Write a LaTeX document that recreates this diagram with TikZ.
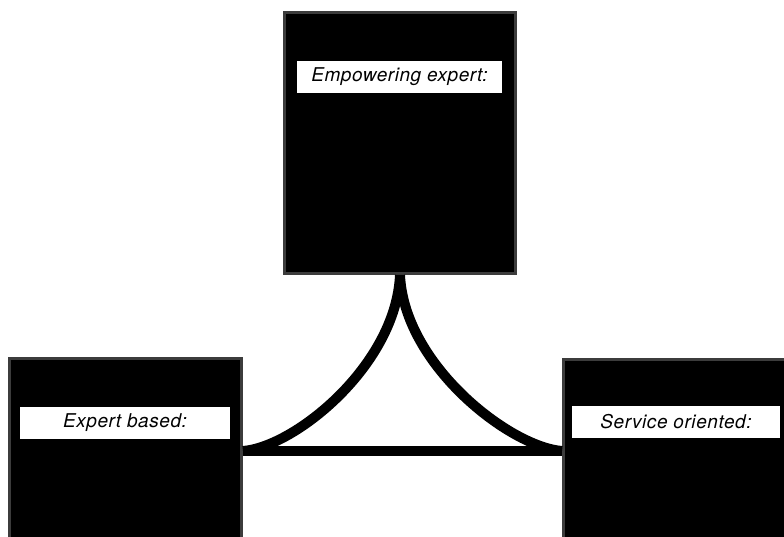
\documentclass[tikz,border=0pt]{standalone}
\usepackage{fontspec}
\setmainfont{TeX Gyre Heros}
\newfontfamily\tagfont[LetterSpace=3]{TeX Gyre Heros}
\usepackage{tikz}
\usetikzlibrary{positioning,calc}
\definecolor{ink}{HTML}{000000}
\definecolor{grain}{HTML}{3C3C3C}
\definecolor{paper}{HTML}{FFFFFF}
\tikzset{
  slab/.style={draw=grain,fill=ink,line width=3pt,inner sep=0pt},
  tag/.style={fill=paper,inner sep=0pt,minimum height=32pt,
              font=\tagfont\fontsize{19}{19}\selectfont\itshape},
  link/.style={draw=ink,line width=10pt}
}

\begin{document}
\begin{tikzpicture}[x=1pt,y=-1pt]
  \useasboundingbox[fill=paper] (0,0) rectangle (784,536);
  \node[slab,minimum width=231pt,minimum height=261pt] (empowering) at (400,143) {};
  \node[slab,minimum width=232pt,minimum height=185pt] (expert) at (125.5,451) {};
  \node[slab,minimum width=225pt,minimum height=183pt] (service) at (676,451) {};
  \node[tag,minimum width=205pt] (empowering tag) at (399.5,76.5) {Empowering expert:};
  \node[tag,minimum width=210pt] (expert tag) at (125,423) {Expert based:};
  \node[tag,minimum width=208pt] (service tag) at (676,421.5) {Service oriented:};
  \draw[link] (empowering.south) .. controls +(-4,90) and +(52,-4) .. (expert.east);
  \draw[link] (empowering.south) .. controls +(4,90) and +(-52,-4) .. (service.west);
  \draw[link] (expert.east) -- (service.west);
\end{tikzpicture}
\end{document}
